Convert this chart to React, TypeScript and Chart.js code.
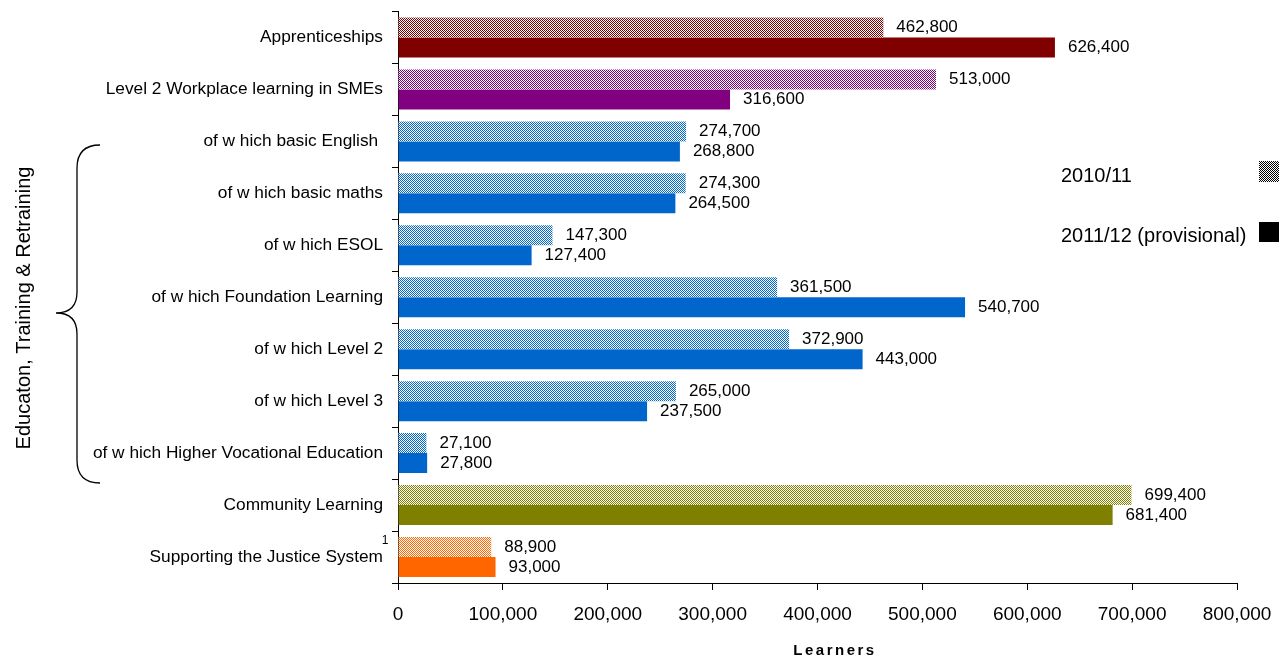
import React, { useEffect, useRef } from "react";
import { Chart, registerables } from "chart.js";

Chart.register(...registerables);

const categories = [
  "Apprenticeships",
  "Level 2 Workplace learning in SMEs",
  "of w hich basic English ",
  "of w hich basic maths",
  "of w hich ESOL",
  "of w hich Foundation Learning",
  "of w hich Level 2",
  "of w hich Level 3",
  "of w hich Higher Vocational Education",
  "Community Learning",
  "Supporting the Justice System",
];

const values2010 = [462800, 513000, 274700, 274300, 147300, 361500, 372900, 265000, 27100, 699400, 88900];
const values2011 = [626400, 316600, 268800, 264500, 127400, 540700, 443000, 237500, 27800, 681400, 93000];

const seriesLabels = ["2010/11", "2011/12 (provisional)"];
const categoryColors = [
  "#800000",
  "#800080",
  "#0066CC",
  "#0066CC",
  "#0066CC",
  "#0066CC",
  "#0066CC",
  "#0066CC",
  "#0066CC",
  "#808000",
  "#FF6600",
];
const xTicks = [0, 100000, 200000, 300000, 400000, 500000, 600000, 700000, 800000];
const xTitle = "Learners";
const groupTitle = "Educaton, Training & Retraining";
const footnoteMark = "1";

const FONT = "'Liberation Sans', Arial, sans-serif";

function makePattern(color: string): CanvasPattern | string {
  const c = document.createElement("canvas");
  c.width = 2;
  c.height = 2;
  const g = c.getContext("2d");
  if (!g) return color;
  g.fillStyle = "#ffffff";
  g.fillRect(0, 0, 2, 2);
  g.fillStyle = color;
  g.fillRect(0, 0, 1, 1);
  g.fillRect(1, 1, 1, 1);
  const p = g.createPattern(c, "repeat");
  return p || color;
}

const fmt = (v: number) => v.toLocaleString("en-US");

export default function App() {
  const ref = useRef<HTMLCanvasElement | null>(null);

  useEffect(() => {
    if (!ref.current) return;
    const patterns = categoryColors.map((c) => makePattern(c));
    const legendPattern = makePattern("#000000");

    const extras = {
      id: "extras",
      afterDatasetsDraw(chart: any) {
        const ctx = chart.ctx;
        ctx.save();
        ctx.font = `17px ${FONT}`;
        ctx.fillStyle = "#000";
        ctx.textAlign = "left";
        ctx.textBaseline = "middle";
        chart.data.datasets.forEach((ds: any, di: number) => {
          const meta = chart.getDatasetMeta(di);
          meta.data.forEach((bar: any, i: number) => {
            ctx.fillText(fmt(ds.data[i]), bar.x + 13, bar.y);
          });
        });
        ctx.restore();
      },
      afterDraw(chart: any) {
        const ctx = chart.ctx;
        ctx.save();
        // legend
        ctx.font = `20px ${FONT}`;
        ctx.fillStyle = "#000";
        ctx.textAlign = "left";
        ctx.textBaseline = "middle";
        ctx.fillText(seriesLabels[0], 1061, 176);
        ctx.fillText(seriesLabels[1], 1061, 236);
        ctx.fillStyle = legendPattern;
        ctx.fillRect(1259, 161, 20, 21);
        ctx.fillStyle = "#000";
        ctx.fillRect(1259, 222, 20, 20);

        // x title
        ctx.font = `bold 15px ${FONT}`;
        ctx.textAlign = "center";
        (ctx as any).letterSpacing = "2.5px";
        ctx.fillText(xTitle, 835, 651);
        (ctx as any).letterSpacing = "0px";

        // footnote mark
        ctx.font = `12px ${FONT}`;
        ctx.textAlign = "center";
        ctx.fillText(footnoteMark, 385, 541);

        // group title rotated
        ctx.save();
        ctx.translate(24, 308);
        ctx.rotate(-Math.PI / 2);
        ctx.font = `20px ${FONT}`;
        ctx.textAlign = "center";
        ctx.textBaseline = "middle";
        ctx.fillText(groupTitle, 0, 0);
        ctx.restore();

        // brace
        ctx.beginPath();
        ctx.strokeStyle = "#000";
        ctx.lineWidth = 1.3;
        ctx.moveTo(100, 145);
        ctx.quadraticCurveTo(77, 145, 77, 168);
        ctx.lineTo(77, 292);
        ctx.quadraticCurveTo(77, 313, 56, 313);
        ctx.quadraticCurveTo(77, 313, 77, 334);
        ctx.lineTo(77, 460);
        ctx.quadraticCurveTo(77, 483, 100, 483);
        ctx.stroke();
        ctx.restore();
      },
    };

    const chart = new Chart(ref.current, {
      type: "bar",
      data: {
        labels: categories,
        datasets: [
          {
            label: seriesLabels[0],
            data: values2010,
            backgroundColor: patterns as any,
            borderWidth: 0,
          },
          {
            label: seriesLabels[1],
            data: values2011,
            backgroundColor: categoryColors,
            borderWidth: 0,
          },
        ],
      },
      options: {
        indexAxis: "y",
        animation: false,
        responsive: false,
        layout: { padding: { left: 0, right: 51, top: 11.5, bottom: 0 } },
        datasets: { bar: { categoryPercentage: 0.77, barPercentage: 1 } } as any,
        plugins: {
          legend: { display: false },
          tooltip: { enabled: false },
        },
        scales: {
          x: {
            min: 0,
            max: 800000,
            afterBuildTicks: (scale: any) => {
              scale.ticks = xTicks.map((v) => ({ value: v }));
            },
            afterFit: (scale: any) => {
              scale.height = 79;
              scale.paddingLeft = 0;
              scale.paddingRight = 0;
            },
            grid: {
              drawOnChartArea: false,
              drawTicks: true,
              tickLength: 7,
              color: "#000",
            },
            border: { color: "#000", width: 1 },
            ticks: {
              font: { size: 19, family: FONT },
              color: "#000",
              padding: 13,
              maxRotation: 0,
              callback: (v: any) => fmt(Number(v)),
            },
          },
          y: {
            afterFit: (scale: any) => {
              scale.width = 398;
              scale.paddingTop = 0;
              scale.paddingBottom = 0;
            },
            grid: {
              drawOnChartArea: false,
              drawTicks: true,
              tickLength: 6,
              offset: true,
              color: "#000",
            },
            border: { color: "#000", width: 1 },
            ticks: {
              font: { size: 17.3, family: FONT },
              color: "#000",
              padding: 9,
              autoSkip: false,
            },
          },
        },
      },
      plugins: [extras],
    });
    return () => chart.destroy();
  }, []);

  return (
    <div style={{ position: "absolute", left: 0, top: 0, width: 1288, height: 662, background: "#fff" }}>
      <canvas ref={ref} width={1288} height={662} />
    </div>
  );
}
